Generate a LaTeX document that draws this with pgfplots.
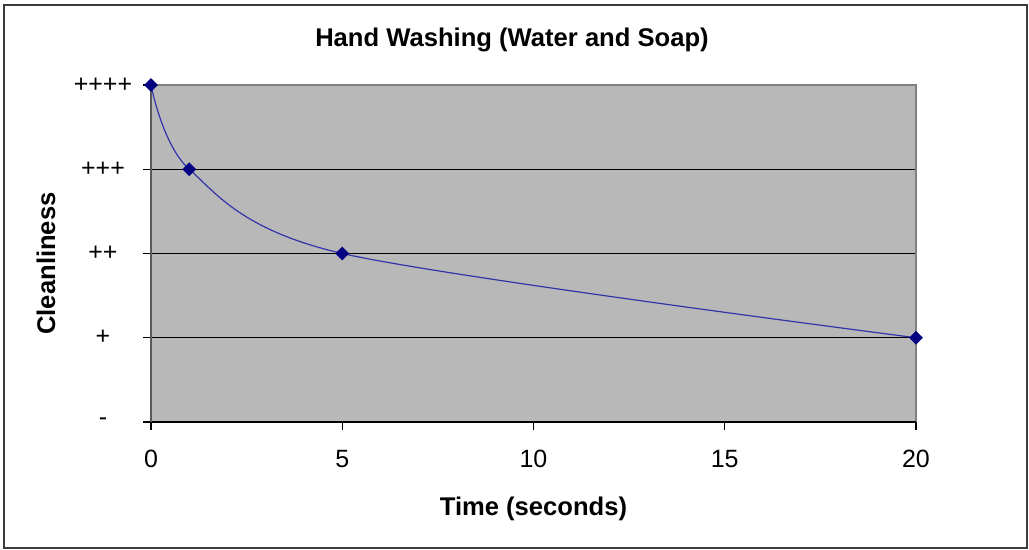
\documentclass[border=0pt]{standalone}
\usepackage{pgfplots}
\pgfplotsset{compat=1.18}
\usepackage{fontspec}
\setmainfont{Liberation Sans}
\definecolor{plotbg}{RGB}{184,184,184}
\definecolor{navy}{RGB}{0,0,128}
\definecolor{linecol}{RGB}{51,51,170}
\definecolor{framecol}{RGB}{60,60,60}
\definecolor{bordergray}{RGB}{128,128,128}
\definecolor{axisgray}{RGB}{90,90,90}
\begin{document}
\begin{tikzpicture}
\useasboundingbox (0,0) rectangle (514.5pt,275pt);
\fill[white] (0,0) rectangle (514.5pt,275pt);
\draw[line width=1pt, draw=framecol] (2pt,1pt) rectangle (513.5pt,272.5pt);
\begin{axis}[
  at={(75.5pt,64pt)}, anchor=south west,
  scale only axis, width=382.5pt, height=168.5pt,
  xmin=0, xmax=20, ymin=0, ymax=4,
  xtick={0,5,10,15,20}, ytick={0,1,2,3,4},
  yticklabels={-,+,++,+++,++++},
  axis background/.style={fill=plotbg},
  axis line style={draw=none},
  tick align=outside, xtick pos=bottom, ytick pos=left,
  major tick length=4pt,
  tick style={black, line width=0.6pt},
  /pgf/number format/assume math mode=true,
  ticklabel style={font=\fontsize{12.5}{15}\selectfont},
  yticklabel style={anchor=center, xshift=-20pt},
  xticklabel style={anchor=center, yshift=-14.5pt},
  title={Hand Washing (Water and Soap)},
  title style={at={(0.5,1)}, anchor=center, yshift=16.5pt, xshift=-10.75pt, font=\bfseries\fontsize{12.8}{15}\selectfont},
  xlabel={Time (seconds)},
  xlabel style={at={(0.5,0)}, anchor=center, yshift=-43.5pt, font=\bfseries\fontsize{12.8}{15}\selectfont},
  ylabel={Cleanliness},
  ylabel style={at={(0,0.5)}, anchor=center, rotate=0, yshift=52.5pt, xshift=-5pt, font=\bfseries\fontsize{12.8}{15}\selectfont},
  clip=false,
]
\draw[black, line width=0.5pt] (axis cs:0,1) -- (axis cs:20,1);
\draw[black, line width=0.5pt] (axis cs:0,2) -- (axis cs:20,2);
\draw[black, line width=0.5pt] (axis cs:0,3) -- (axis cs:20,3);
\draw[bordergray, line width=0.7pt] (rel axis cs:0,1) -- (rel axis cs:1,1) -- (rel axis cs:1,0);
\draw[black, line width=0.8pt] (rel axis cs:0,0) -- (rel axis cs:1,0);
\draw[axisgray, line width=1pt] (rel axis cs:0,0) -- (rel axis cs:0,1);
\addplot[linecol, line width=0.6pt, smooth, mark=square*, mark size=2.1pt,
  mark options={navy, fill=navy, rotate=45, solid}]
  coordinates {(0,4) (1,3) (5,2) (20,1)};
\end{axis}
\end{tikzpicture}
\end{document}
